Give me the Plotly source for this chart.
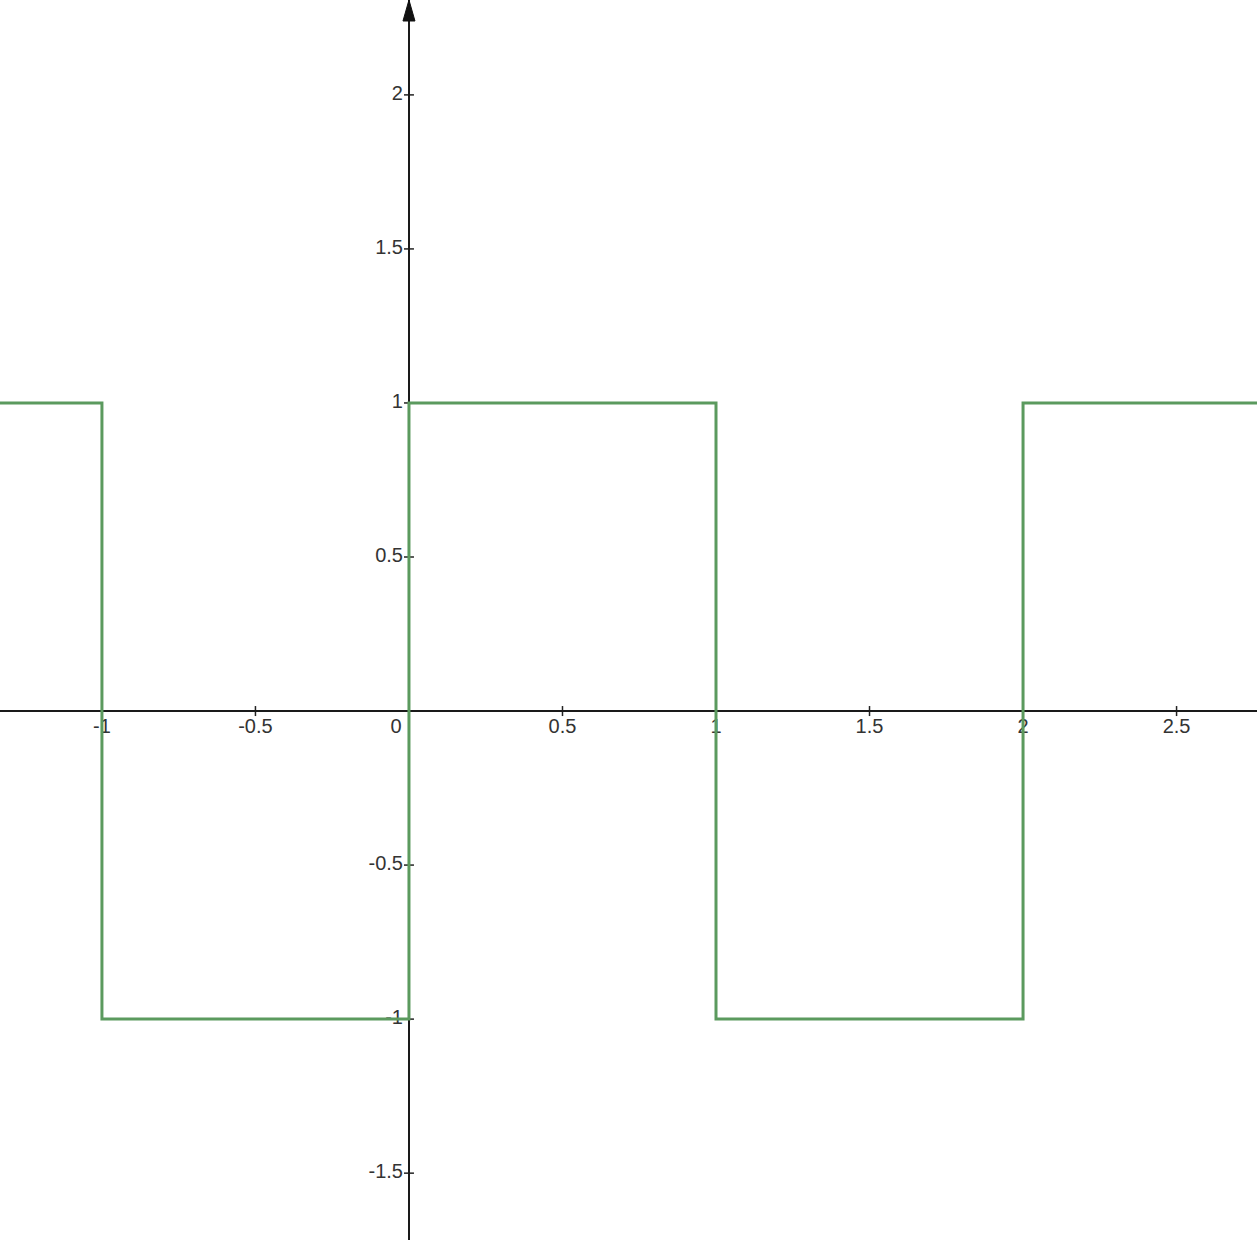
import plotly.graph_objects as go

# Square wave breakpoints
wave_x = [-1.4, -1, -1, 0, 0, 1, 1, 2, 2, 2.8]
wave_y = [1, 1, -1, -1, 1, 1, -1, -1, 1, 1]

x_ticks = [-1, -0.5, 0.5, 1, 1.5, 2, 2.5]
x_tick_labels = ["-1", "-0.5", "0.5", "1", "1.5", "2", "2.5"]
y_ticks = [-1.5, -1, -0.5, 0.5, 1, 1.5, 2]
y_tick_labels = ["-1.5", "-1", "-0.5", "0.5", "1", "1.5", "2"]

x_range = [-1.332, 2.762]
y_range = [-1.717, 2.308]

W, H = 1257, 1240
px_x = W / (x_range[1] - x_range[0])
px_y = H / (y_range[1] - y_range[0])

fig = go.Figure()

lab_font = dict(family="Arial, Liberation Sans, sans-serif", size=20, color="#333333")

# x tick labels (below the axis)
fig.add_trace(go.Scatter(
    x=x_ticks, y=[-17 / px_y] * len(x_ticks), mode="text", text=x_tick_labels,
    textposition="middle center", textfont=lab_font, hoverinfo="skip", showlegend=False,
))
# origin label
fig.add_trace(go.Scatter(
    x=[-13 / px_x], y=[-17 / px_y], mode="text", text=["0"], textposition="middle center",
    textfont=lab_font, hoverinfo="skip", showlegend=False,
))
# y tick labels (left of the axis)
fig.add_trace(go.Scatter(
    x=[-6 / px_x] * len(y_ticks), y=y_ticks, mode="text", text=y_tick_labels,
    textposition="middle left", textfont=lab_font, hoverinfo="skip", showlegend=False,
))

# square wave
fig.add_trace(go.Scatter(
    x=wave_x, y=wave_y, mode="lines",
    line=dict(color="#5b9a5e", width=3), hoverinfo="skip", showlegend=False,
))

shapes = []
for t in x_ticks:
    shapes.append(dict(type="line", xref="x", yref="y", ysizemode="pixel", yanchor=0,
                       x0=t, x1=t, y0=-5, y1=5, line=dict(color="#222222", width=1.5), layer="below"))
for t in y_ticks:
    shapes.append(dict(type="line", xref="x", yref="y", xsizemode="pixel", xanchor=0,
                       x0=-5, x1=5, y0=t, y1=t, line=dict(color="#222222", width=1.5), layer="below"))

# arrowhead at top of the y-axis
shapes.append(dict(type="path", xref="x", yref="y", xsizemode="pixel", ysizemode="pixel",
                   xanchor=0, yanchor=y_range[1],
                   path="M -6,-21 L 0,0 L 6,-21 Z",
                   fillcolor="#111111", line=dict(color="#111111", width=1), layer="above"))

fig.update_layout(
    width=W, height=H,
    margin=dict(l=0, r=0, t=0, b=0),
    paper_bgcolor="white", plot_bgcolor="white",
    shapes=shapes,
    xaxis=dict(range=x_range, showgrid=False, showticklabels=False, ticks="",
               zeroline=True, zerolinecolor="#1a1a1a", zerolinewidth=2, fixedrange=True),
    yaxis=dict(range=y_range, showgrid=False, showticklabels=False, ticks="",
               zeroline=True, zerolinecolor="#1a1a1a", zerolinewidth=2, fixedrange=True),
)

fig.write_html("out.html", config=dict(displayModeBar=False),
               post_script="document.body.style.margin='0px';document.body.style.padding='0px';")
